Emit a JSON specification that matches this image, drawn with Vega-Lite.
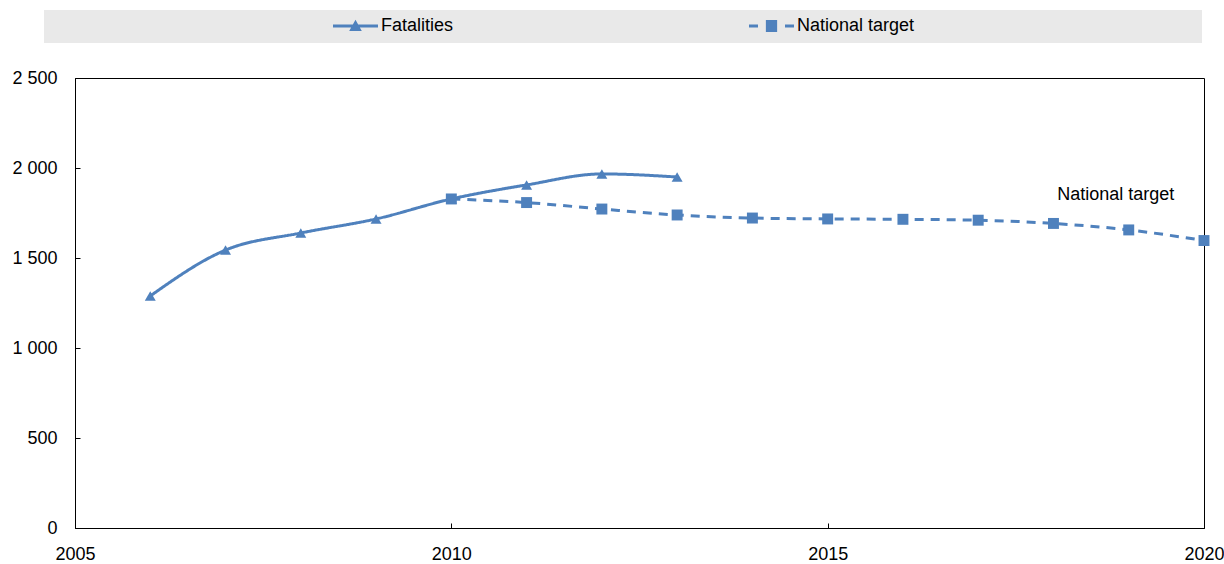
{
  "$schema": "https://vega.github.io/schema/vega-lite/v6.json",
  "width": 1129,
  "height": 450,
  "autosize": {"type": "none"},
  "padding": {"left": 75, "top": 78, "right": 20, "bottom": 36},
  "background": "white",
  "config": {
    "font": "Liberation Sans",
    "view": {"stroke": "black", "strokeWidth": 1},
    "axis": {
      "domainColor": "black",
      "tickColor": "black",
      "tickSize": -5,
      "grid": false,
      "labelFontSize": 18,
      "labelColor": "black",
      "title": null
    }
  },
  "datasets": {
    "series": [
      {"year": 2006, "value": 1289, "series": "Fatalities"},
      {"year": 2007, "value": 1544, "series": "Fatalities"},
      {"year": 2008, "value": 1639, "series": "Fatalities"},
      {"year": 2009, "value": 1717, "series": "Fatalities"},
      {"year": 2010, "value": 1828, "series": "Fatalities"},
      {"year": 2011, "value": 1906, "series": "Fatalities"},
      {"year": 2012, "value": 1967, "series": "Fatalities"},
      {"year": 2013, "value": 1950, "series": "Fatalities"},
      {"year": 2010, "value": 1828, "series": "National target"},
      {"year": 2011, "value": 1808, "series": "National target"},
      {"year": 2012, "value": 1772, "series": "National target"},
      {"year": 2013, "value": 1739, "series": "National target"},
      {"year": 2014, "value": 1722, "series": "National target"},
      {"year": 2015, "value": 1717, "series": "National target"},
      {"year": 2016, "value": 1715, "series": "National target"},
      {"year": 2017, "value": 1710, "series": "National target"},
      {"year": 2018, "value": 1692, "series": "National target"},
      {"year": 2019, "value": 1656, "series": "National target"},
      {"year": 2020, "value": 1597, "series": "National target"}
    ],
    "notes": [
      {"year": 2018.05, "value": 1850, "text": "National target"}
    ]
  },
  "layer": [
    {
      "data": {"name": "series"},
      "mark": {"type": "line", "interpolate": "monotone", "strokeWidth": 3},
      "encoding": {
        "x": {
          "field": "year", "type": "quantitative",
          "scale": {"domain": [2005, 2020], "nice": false, "zero": false},
          "axis": {"values": [2005, 2010, 2015, 2020], "format": "d", "labelPadding": 22, "labelFlush": false}
        },
        "y": {
          "field": "value", "type": "quantitative",
          "scale": {"domain": [0, 2500], "nice": false},
          "axis": {"values": [0, 500, 1000, 1500, 2000, 2500], "labelExpr": "replace(format(datum.value, ','), ',', ' ')", "labelPadding": 23}
        },
        "color": {
          "field": "series", "type": "nominal",
          "scale": {"domain": ["Fatalities", "National target"], "range": ["#4F81BD", "#4F81BD"]},
          "legend": {
            "orient": "none",
            "legendX": -31,
            "legendY": -68,
            "direction": "horizontal",
            "fillColor": "#E9E9E9",
            "padding": 8,
            "title": " ",
            "titleOrient": "left",
            "titleFontSize": 1,
            "titlePadding": 281,
            "labelFontSize": 18,
            "labelColor": "black",
            "labelOffset": 3,
            "labelLimit": 2000,
            "symbolSize": 2025,
            "symbolStrokeWidth": 0,
            "clipHeight": 16,
            "columnPadding": 295,
            "encode": {
              "labels": {
                "update": {
                  "text": {"signal": "datum.value == 'National target' ? datum.label + '\u2003\u2003\u2003\u2003\u2003\u2003\u2003\u2003\u2003\u2003\u2003\u2003\u2003\u2003\u2003\u2002\u200b' : datum.label"}
                }
              },
              "symbols": {
                "update": {
                  "shape": {"signal": "datum.value == 'Fatalities' ? 'M-1,-0.07H1V0.07H-1Z M-0.28,0.22L0,-0.28L0.28,0.22Z' : 'M-1,-0.07H-0.6V0.07H-1Z M-0.25,-0.27H0.25V0.27H-0.25Z M0.6,-0.07H1V0.07H0.6Z'"},
                  "size": {"value": 2025},
                  "fill": {"value": "#4F81BD"},
                  "fillOpacity": {"value": 1},
                  "strokeWidth": {"value": 0},
                  "opacity": {"value": 1}
                }
              }
            }
          }
        },
        "strokeDash": {
          "field": "series", "type": "nominal",
          "scale": {"domain": ["Fatalities", "National target"], "range": [[1, 0], [9, 7]]},
          "legend": null
        }
      }
    },
    {
      "data": {"name": "series"},
      "transform": [{"filter": "datum.series == 'Fatalities'"}],
      "mark": {"type": "point", "filled": true, "opacity": 1, "size": 120, "shape": "triangle-up", "color": "#4F81BD"},
      "encoding": {
        "x": {"field": "year", "type": "quantitative"},
        "y": {"field": "value", "type": "quantitative"}
      }
    },
    {
      "data": {"name": "series"},
      "transform": [{"filter": "datum.series == 'National target'"}],
      "mark": {"type": "point", "filled": true, "opacity": 1, "size": 120, "shape": "square", "color": "#4F81BD"},
      "encoding": {
        "x": {"field": "year", "type": "quantitative"},
        "y": {"field": "value", "type": "quantitative"}
      }
    },
    {
      "data": {"name": "notes"},
      "mark": {"type": "text", "align": "left", "baseline": "middle", "fontSize": 18, "color": "black"},
      "encoding": {
        "x": {"field": "year", "type": "quantitative"},
        "y": {"field": "value", "type": "quantitative"},
        "text": {"field": "text"}
      }
    }
  ]
}
